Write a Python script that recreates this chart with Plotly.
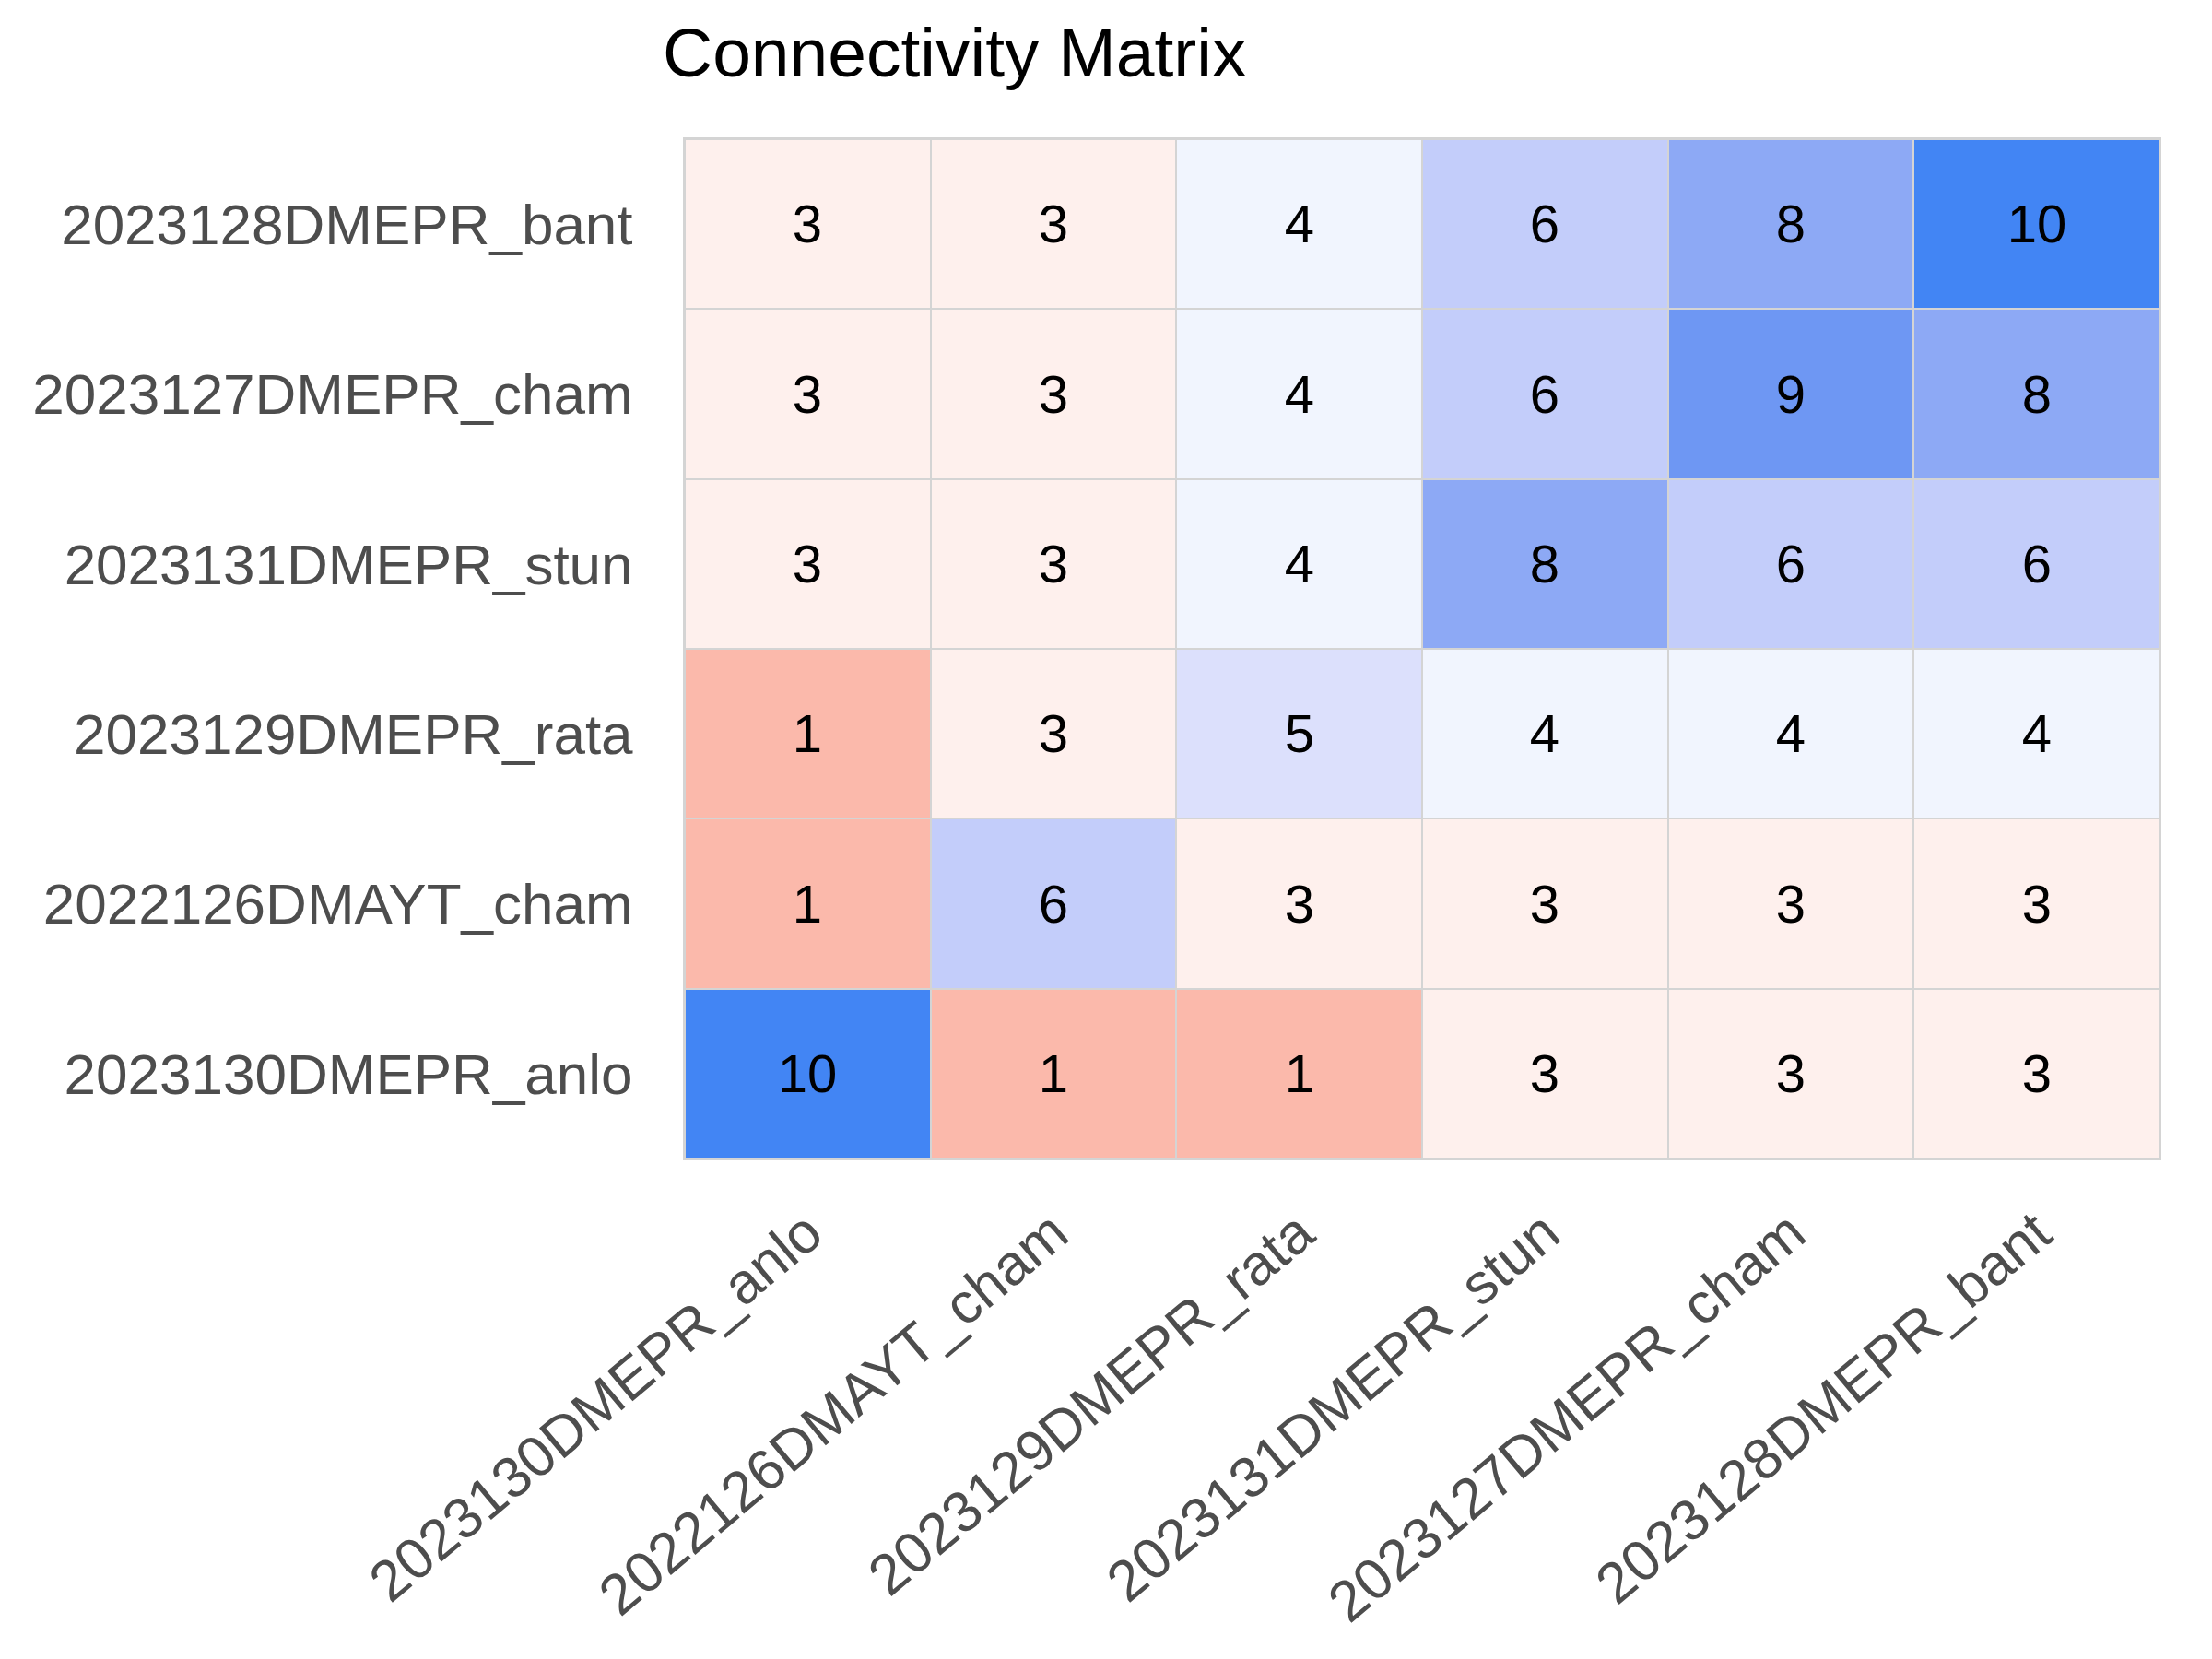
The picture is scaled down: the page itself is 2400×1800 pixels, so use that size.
import plotly.graph_objects as go

labels = ["2023130DMEPR_anlo", "2022126DMAYT_cham", "2023129DMEPR_rata",
          "2023131DMEPR_stun", "2023127DMEPR_cham", "2023128DMEPR_bant"]

# rows listed bottom-to-top (same order as labels)
row_anlo = [10, 1, 1, 3, 3, 3]
row_dmayt_cham = [1, 6, 3, 3, 3, 3]
row_rata = [1, 3, 5, 4, 4, 4]
row_stun = [3, 3, 4, 8, 6, 6]
row_cham = [3, 3, 4, 6, 9, 8]
row_bant = [3, 3, 4, 6, 8, 10]
z = [row_anlo, row_dmayt_cham, row_rata, row_stun, row_cham, row_bant]

colorscale = [
    [0.0, "#FBB9AB"],
    [2 / 9, "#FEF0ED"],
    [3 / 9, "#F1F5FE"],
    [4 / 9, "#DCE0FC"],
    [5 / 9, "#C3CDFA"],
    [7 / 9, "#8DA9F5"],
    [8 / 9, "#6E97F3"],
    [1.0, "#4285F4"],
]

FONT = "Liberation Sans, Arial, sans-serif"

fig = go.Figure(go.Heatmap(
    z=z, x=labels, y=labels,
    zmin=1, zmax=10,
    colorscale=colorscale,
    showscale=False,
    xgap=2, ygap=2,
    texttemplate="%{z}",
    textfont=dict(family=FONT, size=58, color="black"),
    hoverinfo="skip",
))

fig.update_layout(
    width=2400, height=1800,
    margin=dict(l=735, r=65, t=143, b=551),
    paper_bgcolor="white",
    plot_bgcolor="#D4D4D4",
    font=dict(family=FONT, color="#4D4D4D"),
    title=dict(
        text="Connectivity Matrix",
        font=dict(family=FONT, size=75, color="black"),
        xref="container", x=711 / 2400, xanchor="left",
        yref="container", y=1 - 49 / 1800, yanchor="middle",
    ),
    xaxis=dict(
        tickangle=-40, tickfont=dict(size=62, color="#4D4D4D"),
        showgrid=False, zeroline=False,
        showline=True, mirror=True, linecolor="#D4D4D4", linewidth=2,
        ticks="", ticklabelstandoff=18,
    ),
    yaxis=dict(
        tickfont=dict(size=62, color="#4D4D4D"),
        showgrid=False, zeroline=False,
        showline=True, mirror=True, linecolor="#D4D4D4", linewidth=2,
        ticks="", ticklabelstandoff=42,
    ),
)

fig.write_html("out.html")
